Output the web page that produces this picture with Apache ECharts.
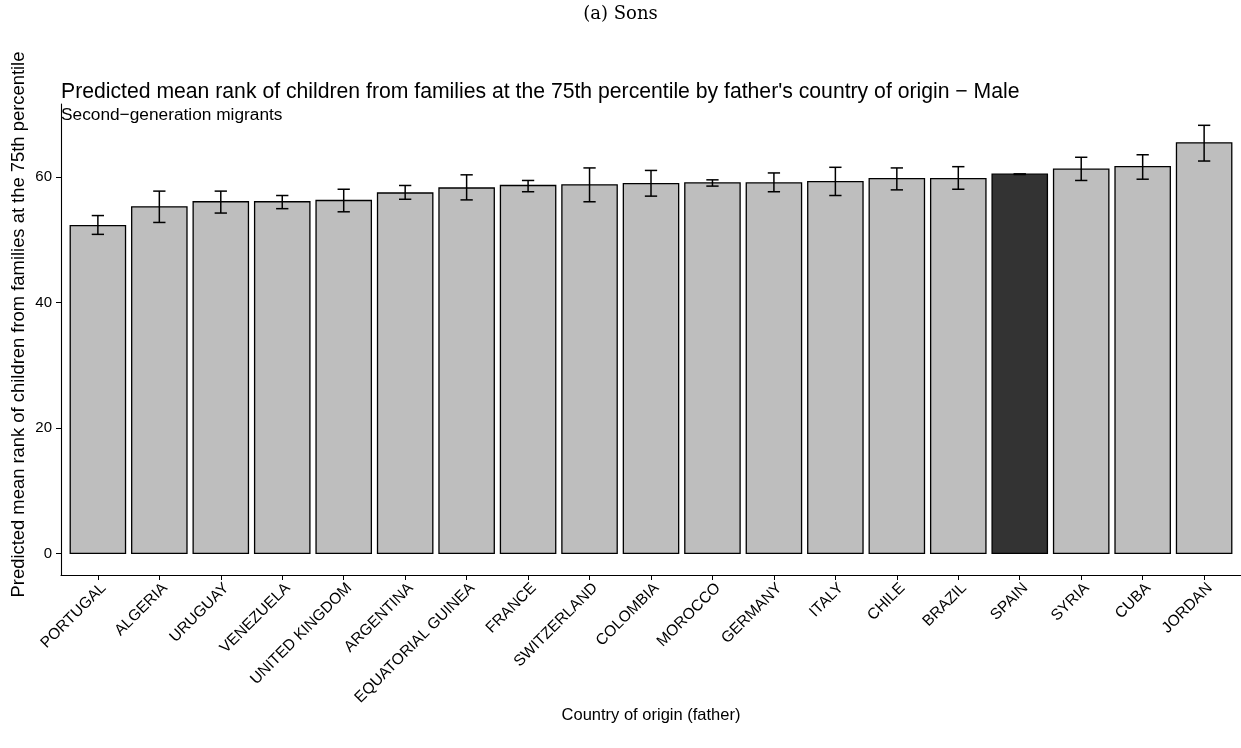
<!DOCTYPE html>
<html><head><meta charset="utf-8">
<script src="https://cdn.jsdelivr.net/npm/echarts@6/dist/echarts.min.js"></script>
<style>html,body{margin:0;padding:0;background:#fff}#c{width:1241px;height:748px}</style>
</head><body><div id="c"></div>
<script>
const categories = ['PORTUGAL','ALGERIA','URUGUAY','VENEZUELA','UNITED KINGDOM','ARGENTINA','EQUATORIAL GUINEA','FRANCE','SWITZERLAND','COLOMBIA','MOROCCO','GERMANY','ITALY','CHILE','BRAZIL','SPAIN','SYRIA','CUBA','JORDAN'];
const means = [52.3,55.3,56.1,56.1,56.3,57.5,58.3,58.7,58.8,59.0,59.1,59.1,59.3,59.8,59.8,60.5,61.3,61.7,65.5];
const lower = [50.9,52.8,54.3,55.0,54.5,56.5,56.4,57.7,56.1,57.0,58.6,57.7,57.1,58.0,58.1,60.45,59.5,59.7,62.6];
const upper = [53.9,57.8,57.8,57.1,58.1,58.7,60.4,59.5,61.5,61.1,59.6,60.7,61.6,61.5,61.7,60.55,63.2,63.6,68.3];
const yTicks = [0,20,40,60];
const highlight = 'SPAIN';

const chart = echarts.init(document.getElementById('c'), null, {renderer:'canvas'});
const rows = categories.map((c,i)=>[i, means[i], lower[i], upper[i]]);
const xIdx = categories.map((c,i)=>i);
const sans = 'Liberation Sans, Arial, sans-serif';

chart.setOption({
  animation:false,
  backgroundColor:'#fff',
  title:[
    {text:'(a) Sons', left:'center', top:0, textStyle:{fontFamily:'DejaVu Serif, serif', fontSize:18, fontWeight:'normal', color:'#000'}},
    {text:"Predicted mean rank of children from families at the 75th percentile by father's country of origin \u2212 Male", left:56, top:77, textStyle:{fontFamily:sans, fontSize:21.2, fontWeight:'normal', color:'#000'}},
    {text:'Second\u2212generation migrants', left:56, top:102, textStyle:{fontFamily:sans, fontSize:17.3, fontWeight:'normal', color:'#000'}}
  ],
  grid:{left:61, right:-3, top:104, bottom:173, containLabel:false},
  xAxis:{
    type:'value', min:-0.6, max:categories.length-0.4,
    name:'Country of origin (father)', nameLocation:'middle', nameGap:132, nameMoveOverlap:false,
    nameTextStyle:{fontFamily:sans, fontSize:16.5, color:'#000'},
    axisLine:{show:true, onZero:false, lineStyle:{color:'#000', width:1.1}},
    axisTick:{show:true, length:5, lineStyle:{color:'#000'}, customValues:xIdx},
    axisLabel:{customValues:xIdx, formatter:v=>categories[Math.round(v)], rotate:45, verticalAlign:'top', margin:5, fontFamily:sans, fontSize:15.5, color:'#000'},
    splitLine:{show:false}
  },
  yAxis:{
    type:'value', min:-3.45, max:71.7,
    name:'Predicted mean rank of children from families at the 75th percentile', nameLocation:'middle', nameGap:33, nameMoveOverlap:false,
    nameTextStyle:{fontFamily:sans, fontSize:18.4, color:'#000', padding:[0,0,0,30]},
    axisLine:{show:true, onZero:false, lineStyle:{color:'#000', width:1.1}},
    axisTick:{show:true, length:5, lineStyle:{color:'#000'}, customValues:yTicks},
    axisLabel:{customValues:yTicks, margin:9, fontFamily:sans, fontSize:15, color:'#000'},
    splitLine:{show:false}
  },
  series:[
    {
      type:'custom', name:'bars', data:rows, clip:false,
      encode:{x:0, y:1},
      renderItem:(params, api)=>{
        const i = api.value(0), v = api.value(1);
        const p0 = api.coord([i,0]), p1 = api.coord([i,v]);
        const w = api.size([0.9,0])[0];
        return {type:'rect', shape:{x:p0[0]-w/2, y:p1[1], width:w, height:p0[1]-p1[1]},
          style:{fill: categories[i]===highlight ? '#333333' : '#BEBEBE', stroke:'#000', lineWidth:1.3}};
      }
    },
    {
      type:'custom', name:'ci', data:rows, clip:false,
      encode:{x:0, y:[2,3]},
      renderItem:(params, api)=>{
        const i = api.value(0);
        const lo = api.coord([i, api.value(2)]), hi = api.coord([i, api.value(3)]);
        const cw = api.size([0.2,0])[0]/2;
        const st = {stroke:'#000', lineWidth:1.5};
        return {type:'group', children:[
          {type:'line', shape:{x1:lo[0], y1:lo[1], x2:hi[0], y2:hi[1]}, style:st},
          {type:'line', shape:{x1:lo[0]-cw, y1:lo[1], x2:lo[0]+cw, y2:lo[1]}, style:st},
          {type:'line', shape:{x1:hi[0]-cw, y1:hi[1], x2:hi[0]+cw, y2:hi[1]}, style:st}
        ]};
      }
    }
  ]
});
</script></body></html>
